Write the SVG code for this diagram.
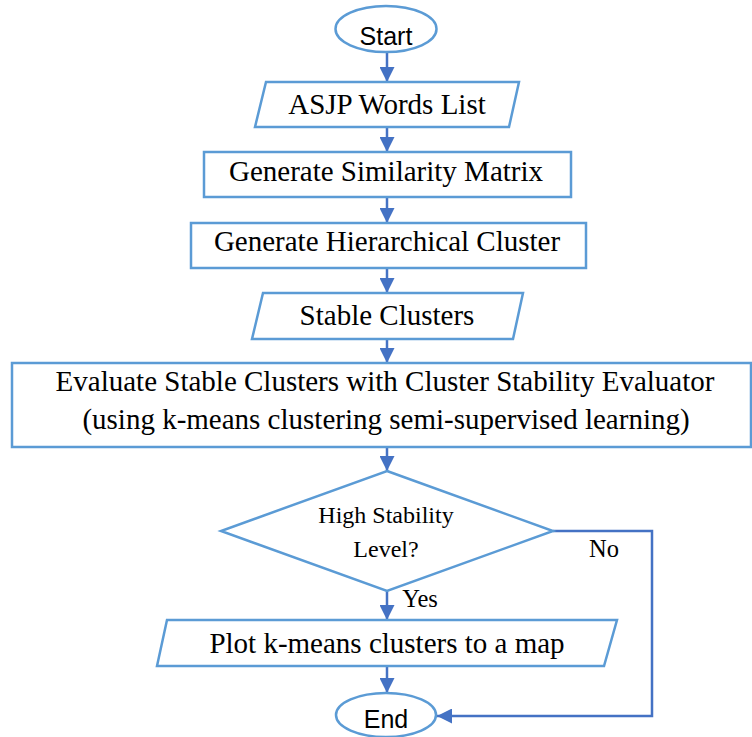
<svg xmlns="http://www.w3.org/2000/svg" width="752" height="737" viewBox="0 0 752 737">
<style>
.shape{fill:#ffffff;stroke:#5B9BD5;stroke-width:2.5}
.serif{font-family:"Liberation Serif","Times New Roman",serif;fill:#000;text-anchor:middle}
.sans{font-family:"Liberation Sans",Arial,sans-serif;fill:#000;text-anchor:middle}
.t29{font-size:29px}
.t24{font-size:24.5px}
.conn{fill:none;stroke:#4472C4;stroke-width:2.5}
</style>
<defs>
<marker id="ah" viewBox="0 0 10 10" refX="10" refY="5" markerWidth="15" markerHeight="15" markerUnits="userSpaceOnUse" orient="auto">
<path d="M0,0 L10,5 L0,10 z" fill="#4472C4"/>
</marker>
</defs>
<rect width="752" height="737" fill="#ffffff"/>
<g id="connectors">
<line class="conn" x1="387" y1="52" x2="387" y2="82" marker-end="url(#ah)"/>
<line class="conn" x1="387" y1="127" x2="387" y2="152" marker-end="url(#ah)"/>
<line class="conn" x1="387" y1="197" x2="387" y2="223" marker-end="url(#ah)"/>
<line class="conn" x1="387" y1="268" x2="387" y2="293" marker-end="url(#ah)"/>
<line class="conn" x1="387" y1="339" x2="387" y2="363" marker-end="url(#ah)"/>
<line class="conn" x1="387" y1="447" x2="387" y2="471" marker-end="url(#ah)"/>
<line class="conn" x1="387" y1="591" x2="387" y2="620" marker-end="url(#ah)"/>
<line class="conn" x1="387" y1="666" x2="387" y2="693" marker-end="url(#ah)"/>
<polyline class="conn" points="553,531 652,531 652,716 437,716" marker-end="url(#ah)"/>
<text class="serif t24" x="604" y="557">No</text>
<text class="serif t24" x="420" y="607">Yes</text>
</g>
<g id="start">
<ellipse class="shape" cx="386" cy="29" rx="50.5" ry="23"/>
<text class="sans" font-size="25" x="386" y="45">Start</text>
</g>
<g id="asjp">
<polygon class="shape" points="266,82 519,82 509,127 255,127"/>
<text class="serif t29" x="387" y="114">ASJP Words List</text>
</g>
<g id="similarity">
<rect class="shape" x="204" y="152" width="367" height="45"/>
<text class="serif t29" x="386" y="181">Generate Similarity Matrix</text>
</g>
<g id="hierarchical">
<rect class="shape" x="191" y="223" width="395" height="45"/>
<text class="serif t29" x="387" y="251">Generate Hierarchical Cluster</text>
</g>
<g id="stable">
<polygon class="shape" points="263,293 523,293 513,339 252,339"/>
<text class="serif t29" x="387" y="325">Stable Clusters</text>
</g>
<g id="evaluate">
<rect class="shape" x="12" y="363" width="739" height="84"/>
<text class="serif t29" x="385" y="391">Evaluate Stable Clusters with Cluster Stability Evaluator</text>
<text class="serif t29" x="386" y="429">(using k-means clustering semi-supervised learning)</text>
</g>
<g id="decision">
<polygon class="shape" points="387,471 553,531 387,591 221,531"/>
<text class="serif" font-size="24" x="386" y="523">High Stability</text>
<text class="serif" font-size="24" x="386" y="557">Level?</text>
</g>
<g id="plot">
<polygon class="shape" points="167,620 617,620 604,666 157,666"/>
<text class="serif t29" x="387" y="653">Plot k-means clusters to a map</text>
</g>
<g id="end">
<ellipse class="shape" cx="386" cy="715" rx="50" ry="22"/>
<text class="sans" font-size="25" x="386" y="728">End</text>
</g>
</svg>
